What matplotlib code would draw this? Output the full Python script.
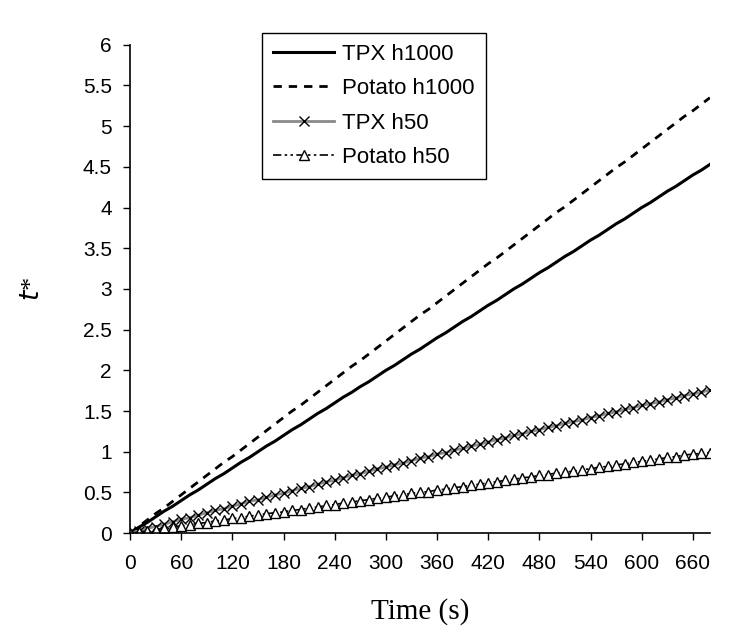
import matplotlib.pyplot as plt
import numpy as np

# time (s), every 10 s
time_s = list(range(0, 690, 10))

tpx_h1000 = [0, 0.07, 0.13, 0.20, 0.27, 0.33, 0.40, 0.47, 0.53, 0.60,
             0.67, 0.73, 0.80, 0.87, 0.93, 1.00, 1.07, 1.13, 1.20, 1.27,
             1.33, 1.40, 1.47, 1.53, 1.60, 1.67, 1.73, 1.80, 1.86, 1.93,
             2.00, 2.06, 2.13, 2.20, 2.26, 2.33, 2.40, 2.46, 2.53, 2.60,
             2.66, 2.73, 2.80, 2.86, 2.93, 3.00, 3.06, 3.13, 3.20, 3.26,
             3.33, 3.40, 3.46, 3.53, 3.60, 3.66, 3.73, 3.80, 3.86, 3.93,
             4.00, 4.06, 4.13, 4.20, 4.26, 4.33, 4.40, 4.46, 4.53]

potato_h1000 = [0, 0.08, 0.16, 0.24, 0.31, 0.39, 0.47, 0.55, 0.63, 0.71,
                0.79, 0.87, 0.94, 1.02, 1.10, 1.18, 1.26, 1.34, 1.42, 1.50,
                1.57, 1.65, 1.73, 1.81, 1.89, 1.97, 2.05, 2.12, 2.20, 2.28,
                2.36, 2.44, 2.52, 2.60, 2.68, 2.75, 2.83, 2.91, 2.99, 3.07,
                3.15, 3.23, 3.31, 3.38, 3.46, 3.54, 3.62, 3.70, 3.78, 3.86,
                3.94, 4.01, 4.09, 4.17, 4.25, 4.33, 4.41, 4.49, 4.56, 4.64,
                4.72, 4.80, 4.88, 4.96, 5.04, 5.12, 5.19, 5.27, 5.35]

tpx_h50 = [0, 0.03, 0.06, 0.08, 0.11, 0.14, 0.17, 0.19, 0.22, 0.25,
           0.28, 0.30, 0.33, 0.36, 0.39, 0.41, 0.44, 0.47, 0.49, 0.52,
           0.55, 0.57, 0.60, 0.63, 0.65, 0.68, 0.71, 0.73, 0.76, 0.79,
           0.81, 0.84, 0.86, 0.89, 0.92, 0.94, 0.97, 0.99, 1.02, 1.04,
           1.07, 1.09, 1.12, 1.15, 1.17, 1.20, 1.22, 1.25, 1.27, 1.30,
           1.32, 1.35, 1.37, 1.39, 1.42, 1.44, 1.47, 1.49, 1.52, 1.54,
           1.57, 1.59, 1.61, 1.64, 1.66, 1.69, 1.71, 1.73, 1.76]

potato_h50 = [0, 0.01, 0.03, 0.04, 0.06, 0.07, 0.09, 0.10, 0.12, 0.13,
              0.15, 0.16, 0.18, 0.19, 0.21, 0.22, 0.24, 0.25, 0.26, 0.28,
              0.29, 0.31, 0.32, 0.34, 0.35, 0.37, 0.38, 0.40, 0.41, 0.43,
              0.44, 0.46, 0.47, 0.49, 0.50, 0.51, 0.53, 0.54, 0.56, 0.57,
              0.59, 0.60, 0.62, 0.63, 0.65, 0.66, 0.68, 0.69, 0.71, 0.72,
              0.74, 0.75, 0.76, 0.78, 0.79, 0.81, 0.82, 0.84, 0.85, 0.87,
              0.88, 0.90, 0.91, 0.93, 0.94, 0.96, 0.97, 0.98, 0.99]

x_ticks = list(range(0, 661, 60))
y_ticks = [0, 0.5, 1, 1.5, 2, 2.5, 3, 3.5, 4, 4.5, 5, 5.5, 6]


def main():
    plt.rcParams['font.family'] = ['Liberation Sans', 'DejaVu Sans']

    fig = plt.figure(figsize=(7.56, 6.4), dpi=100)
    ax = fig.add_axes([0.172, 0.167, 0.767, 0.763])

    ax.plot(time_s, tpx_h1000, color="black", linewidth=2.2, label="TPX h1000")
    ax.plot(time_s, potato_h1000, color="black", linewidth=2, linestyle=(0, (3, 2.5)),
            label="Potato h1000")
    ax.plot(time_s, tpx_h50, color="#8a8a8a", linewidth=2, marker="x", markersize=7.5,
            markeredgecolor="black", markeredgewidth=1, label="TPX h50")
    ax.plot(time_s, potato_h50, color="black", linewidth=1.2, linestyle=(0, (5, 2, 1.5, 2, 1.5, 2)),
            marker="^", markersize=7, markerfacecolor="white", markeredgecolor="black",
            markeredgewidth=1, label="Potato h50")

    ax.set_xlim(0, 680)
    ax.set_ylim(0, 6)
    ax.set_xticks(x_ticks)
    ax.set_yticks(y_ticks)
    ax.set_yticklabels([f"{v:g}" for v in y_ticks])
    ax.tick_params(direction="out", length=5, width=1, labelsize=15, colors="black")
    ax.tick_params(axis="x", pad=10)
    ax.tick_params(axis="y", pad=8)

    for side in ["top", "right"]:
        ax.spines[side].set_visible(False)
    for side in ["left", "bottom"]:
        ax.spines[side].set_linewidth(1.2)

    ax.set_xlabel("Time (s)", fontsize=21, family="Liberation Serif", labelpad=18)
    ax.set_ylabel("$t$*", fontsize=19, family="Liberation Serif", labelpad=28, rotation=90)

    leg = ax.legend(loc="upper left", bbox_to_anchor=(0.2276, 1.0246), fontsize=16,
                    frameon=True, fancybox=False, framealpha=1, edgecolor="black",
                    handlelength=2.75, borderpad=0.5, labelspacing=0.6, handletextpad=0.35,
                    borderaxespad=0)
    leg.get_frame().set_linewidth(1)

    plt.savefig("out.png", dpi=100)


if __name__ == "__main__":
    main()
